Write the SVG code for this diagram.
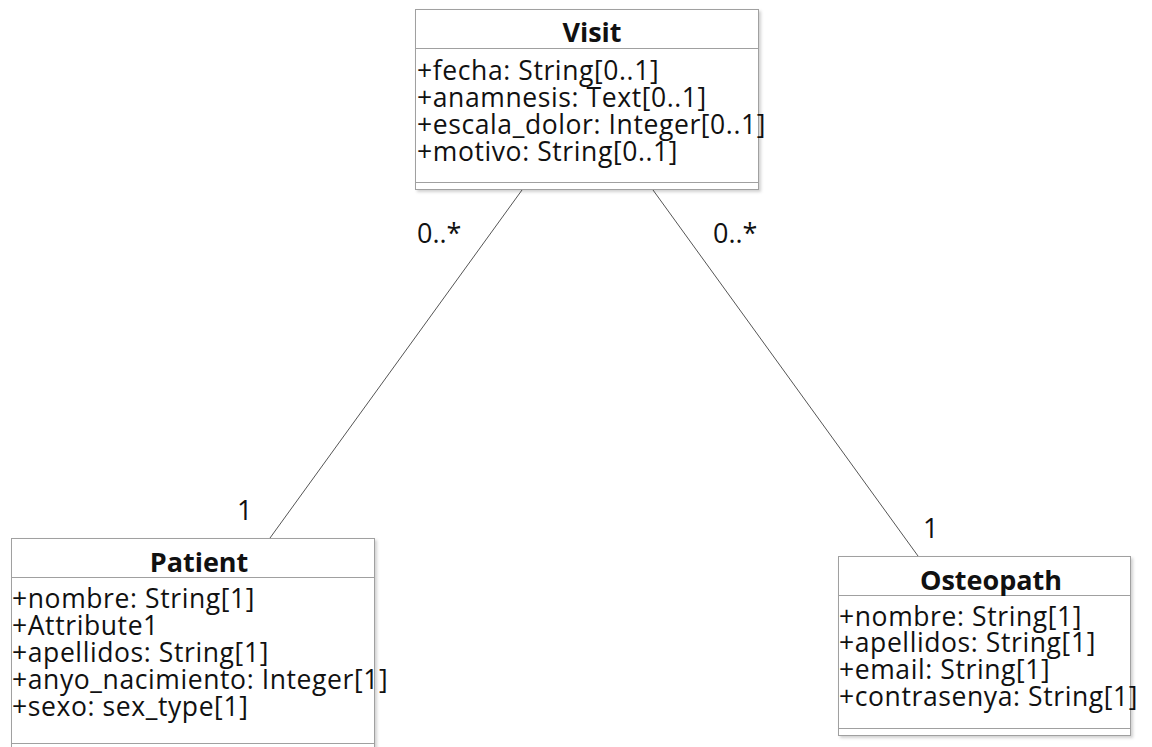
<svg xmlns="http://www.w3.org/2000/svg" width="1152" height="747" viewBox="0 0 1152 747">
  <style>
    .box { fill: #ffffff; stroke: #a0a0a0; stroke-width: 1; }
    .div { stroke: #a0a0a0; stroke-width: 1; }
    .title { font-family: "Open Sans", "Noto Sans", sans-serif; font-weight: bold; font-size: 27px; fill: #111; text-anchor: middle; }
    .attr { font-family: "Open Sans", "Noto Sans", sans-serif; font-size: 26.5px; letter-spacing: 0.6px; fill: #111; }
    .mult { font-family: "Open Sans", "Noto Sans", sans-serif; font-size: 27px; fill: #111; }
    .assoc { stroke: #555; stroke-width: 1; fill: none; }
  </style>
  <defs>
    <filter id="shadow" x="-5%" y="-5%" width="115%" height="115%">
      <feDropShadow dx="2" dy="2" stdDeviation="1.5" flood-color="#000" flood-opacity="0.18"/>
    </filter>
  </defs>

  <!-- associations with their multiplicities -->
  <g id="connectors">
    <line class="assoc" x1="522" y1="190" x2="270" y2="538"/>
    <line class="assoc" x1="653" y1="190" x2="918" y2="556"/>
    <text class="mult" x="417" y="243">0..*</text>
    <text class="mult" x="713" y="243">0..*</text>
    <text class="mult" x="237" y="520">1</text>
    <text class="mult" x="923" y="538">1</text>
  </g>

  <!-- Visit class -->
  <g id="visit">
    <rect class="box" x="415.5" y="9.5" width="343" height="180" filter="url(#shadow)"/>
    <line class="div" x1="415.5" y1="48.5" x2="758.5" y2="48.5"/>
    <line class="div" x1="415.5" y1="182.5" x2="758.5" y2="182.5"/>
    <text class="title" x="592" y="42">Visit</text>
    <text class="attr" x="417" y="80">+fecha: String[0..1]</text>
    <text class="attr" x="417" y="107">+anamnesis: Text[0..1]</text>
    <text class="attr" x="417" y="134">+escala_dolor: Integer[0..1]</text>
    <text class="attr" x="417" y="161">+motivo: String[0..1]</text>
  </g>

  <!-- Patient class -->
  <g id="patient">
    <rect class="box" x="11.5" y="538.5" width="363" height="220" filter="url(#shadow)"/>
    <line class="div" x1="11.5" y1="577.5" x2="374.5" y2="577.5"/>
    <line class="div" x1="11.5" y1="743.5" x2="374.5" y2="743.5"/>
    <text class="title" x="199" y="572">Patient</text>
    <text class="attr" x="12" y="608">+nombre: String[1]</text>
    <text class="attr" x="12" y="635">+Attribute1</text>
    <text class="attr" x="12" y="662">+apellidos: String[1]</text>
    <text class="attr" x="12" y="689">+anyo_nacimiento: Integer[1]</text>
    <text class="attr" x="12" y="716">+sexo: sex_type[1]</text>
  </g>

  <!-- Osteopath class -->
  <g id="osteopath">
    <rect class="box" x="838.5" y="556.5" width="292" height="179" filter="url(#shadow)"/>
    <line class="div" x1="838.5" y1="595.5" x2="1130.5" y2="595.5"/>
    <line class="div" x1="838.5" y1="728.5" x2="1130.5" y2="728.5"/>
    <text class="title" x="991" y="590">Osteopath</text>
    <text class="attr" x="839" y="626">+nombre: String[1]</text>
    <text class="attr" x="839" y="652">+apellidos: String[1]</text>
    <text class="attr" x="839" y="679">+email: String[1]</text>
    <text class="attr" x="839" y="706">+contrasenya: String[1]</text>
  </g>
</svg>
